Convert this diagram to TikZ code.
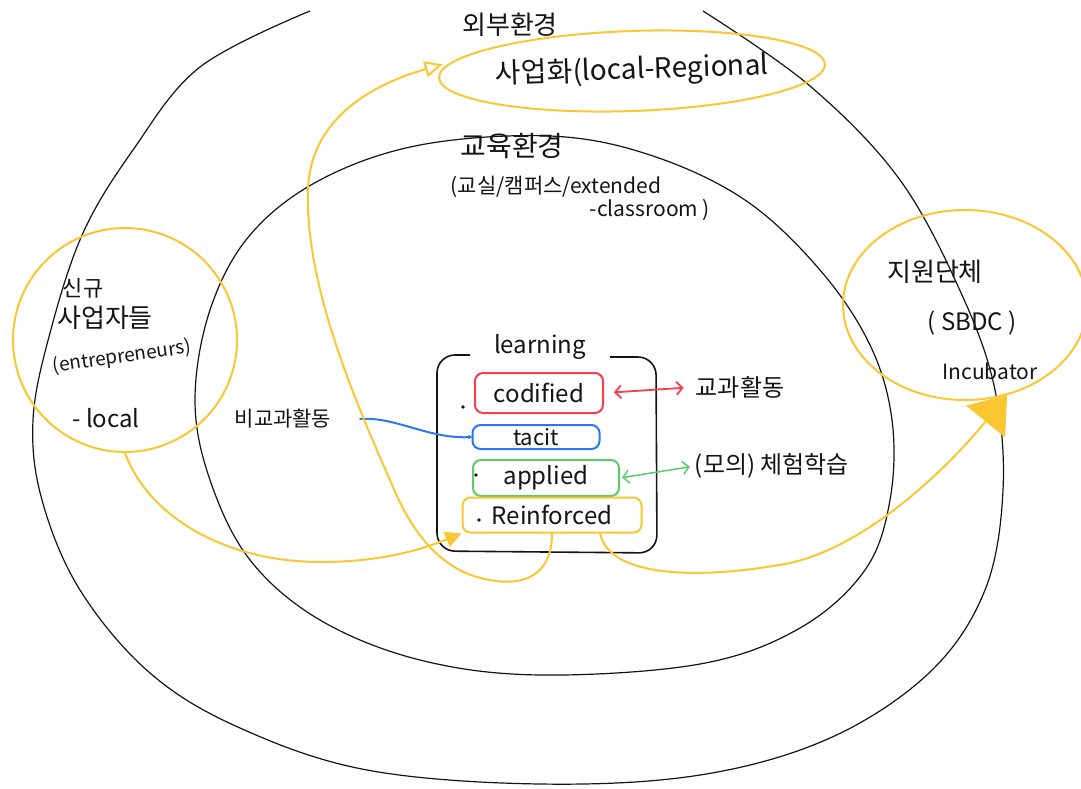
\documentclass[tikz,border=0pt]{standalone}
\usepackage{fontspec}
\setmainfont{Noto Sans CJK KR}
\usetikzlibrary{shapes.geometric,arrows.meta}
\definecolor{pen}{rgb}{0.08,0.08,0.08}
\definecolor{marker}{rgb}{0.98,0.78,0.2}
\definecolor{redpen}{rgb}{0.95,0.25,0.3}
\definecolor{bluepen}{rgb}{0.16,0.48,0.95}
\definecolor{greenpen}{rgb}{0.36,0.8,0.4}

\begin{document}
\begin{tikzpicture}[x=1pt, y=-1pt,
            txt/.style={font=\fontsize{#1}{#1}\selectfont, inner sep=0pt, text=pen},
            ring/.style={draw=marker, line width=2pt},
            item/.style={draw=#1, line width=2pt, rounded corners=8pt},
            barb/.style={line width=1.8pt, {Straight Barb[length=6pt,width=13pt]}-{Straight Barb[length=6pt,width=13pt]}}]
            \useasboundingbox (0,0) rectangle (1081,788);
            \fill[white] (0,0) rectangle (1081,788);

            \draw[pen, line width=1.2pt] plot[smooth, tension=0.6] coordinates {(310,11) (200,67) (133,150) (83,233) (50,333) (33,420) (42,500) (80,590) (150,673) (240,728) (367,770) (540,784) (700,775) (830,738) (930,672) (985,590) (1003,490) (995,390) (962,295) (900,180) (810,86) (703,11)};
            \draw[pen, line width=1.2pt] plot[smooth cycle, tension=0.6] coordinates {(550,136) (650,155) (745,200) (820,270) (870,345) (892,420) (890,500) (865,570) (800,628) (700,664) (540,675) (420,660) (320,620) (250,560) (210,480) (195,400) (210,310) (250,235) (320,180) (420,145)};

            \node[txt=26] (extenv) at (510,25) {외부환경};
            \node[ring, ellipse, minimum width=380pt, minimum height=80pt, rotate=2, txt=28] (region) at (632,71) {사업화(local-Regional};
            \node[txt=28] (eduenv) at (512,146) {교육환경};
            \node[txt=21] (eduplace) at (556,187) {(교실/캠퍼스/extended};
            \node[txt=21] (eduplace2) at (650,210) {-classroom )};

            \node[ring, circle, minimum size=224pt] (newbiz) at (125,340) {};
            \node[txt=22] (newlbl) at (83,288) {신규};
            \node[txt=26] (bizlbl) at (105,318) {사업자들};
            \node[txt=19, rotate=8] (entlbl) at (122,357) {(entrepreneurs)};
            \node[txt=24] (loclbl) at (106,418) {- local};

            \node[ring, ellipse, minimum width=244pt, minimum height=190pt] (support) at (965,305) {};
            \node[txt=26] (suplbl) at (935,272) {지원단체};
            \node[txt=24] (sbdc) at (972,323) {( SBDC )};
            \node[txt=21] (incub) at (990,371) {Incubator};

            \draw[pen, line width=1.6pt, rounded corners=18pt] (470,355) -- (437,355) -- (437,551) -- (657,553) -- (656,357) -- (610,357);
            \node[txt=24] (learnlbl) at (540,347) {learning};

            \node[item=redpen, minimum width=128pt, minimum height=40pt, txt=24] (codified) at (539,393) {codified};
            \node[item=bluepen, minimum width=127pt, minimum height=24pt, txt=22] (tacit) at (536,437) {tacit};
            \node[item=greenpen, minimum width=146pt, minimum height=36pt, txt=24] (applied) at (546,478) {applied};
            \node[item=marker, minimum width=179pt, minimum height=35pt, txt=24] (reinf) at (552,515) {Reinforced};
            \fill[pen] (463,407) circle (1.8);
            \fill[pen] (469,437) circle (1.8);
            \fill[pen] (476,475) circle (1.8);
            \fill[pen] (479,520) circle (1.8);

            \node[txt=24] (curlbl) at (740,387) {교과활동};
            \node[txt=24] (simlbl) at (772,466) {(모의) 체험학습};
            \node[txt=21] (extra) at (283,419) {비교과활동};

            \draw[redpen, barb, shorten <=10pt, shorten >=12pt] (codified.east) -- (curlbl.west);
            \draw[greenpen, barb, line width=1.5pt, shorten <=2pt, shorten >=5pt] (applied.east) -- (simlbl.west);
            \draw[bluepen, line width=2pt] ([xshift=28pt]extra.east) .. controls (395,416) and (430,440) .. (tacit.west);

            \draw[marker, line width=2pt, -{Triangle[length=16pt,width=16pt]}] (newbiz.-90) .. controls (150,520) and (230,562) .. (320,562) .. controls (385,562) and (425,548) .. (reinf.south west);
            \draw[marker, line width=2pt, -{Triangle[open, length=18pt, width=16pt]}, shorten >=10pt] (reinf.south) .. controls (552,578) and (520,586) .. (490,580) .. controls (440,572) and (410,530) .. (390,480) .. controls (350,390) and (305,280) .. (308,190) .. controls (310,120) and (370,85) .. (region.175);
            \draw[marker, line width=2pt, -{Triangle[length=34pt,width=50pt]}] ([xshift=48pt]reinf.south) .. controls (610,578) and (700,580) .. (790,563) .. controls (870,545) and (950,465) .. (support.-65);
        \end{tikzpicture}
\end{document}
